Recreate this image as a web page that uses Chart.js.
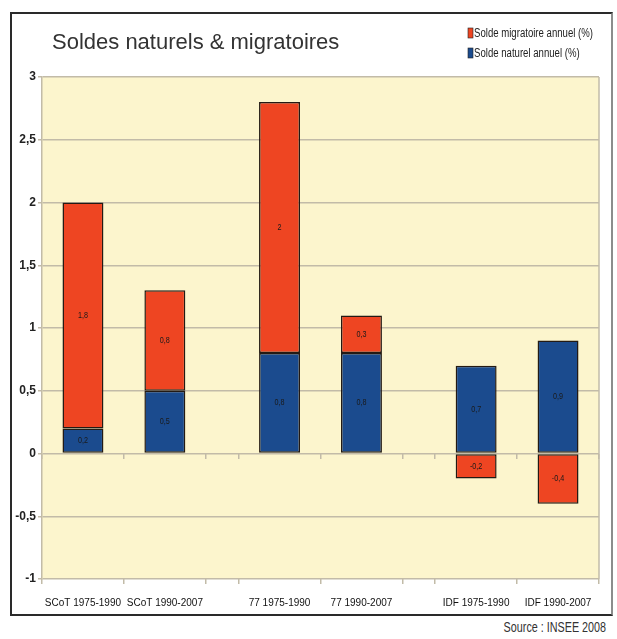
<!DOCTYPE html>
<html lang="fr">
<head>
<meta charset="UTF-8">
<title>Soldes naturels & migratoires</title>
<script src="https://cdn.jsdelivr.net/npm/chart.js"></script>
<style>
    body {
        margin: 0;
        background: #fff;
        font-family: 'Liberation Sans', Arial, sans-serif;
    }
    .frame {
        position: absolute;
        left: 10px;
        top: 12px;
        width: 599px;
        height: 600px;
        border: 2px solid #2a2a2a;
        border-right-color: #8c8c8c;
        background: #fff;
    }
    .source {
        position: absolute;
        right: 11px;
        top: 619px;
        font: 14px 'Liberation Sans', Arial, sans-serif;
        color: #333;
        transform: scaleX(0.77);
        transform-origin: right center;
        white-space: nowrap;
    }
</style>
</head>
<body>
<div class="frame"><canvas id="soldes"></canvas></div>
<div class="source">Source : INSEE 2008</div>

<script>
// data
const title = 'Soldes naturels & migratoires';
const categories = ['SCoT 1975-1990', 'SCoT 1990-2007', '77 1975-1990', '77 1990-2007', 'IDF 1975-1990', 'IDF 1990-2007'];
const soldeNaturel = [0.2, 0.5, 0.8, 0.8, 0.7, 0.9];
const soldeMigratoire = [1.8, 0.8, 2, 0.3, -0.2, -0.4];
const labelNaturel = 'Solde naturel annuel (%)';
const labelMigratoire = 'Solde migratoire annuel (%)';
const yMin = -1, yMax = 3, yStep = 0.5;

// bars come in pairs (one pair per territory), with a narrower gap between pairs
const perGroup = 2;
const groupGap = 0.4;
const nGroups = categories.length / perGroup;
const xMax = nGroups * perGroup + (nGroups - 1) * groupGap;
const centers = categories.map((c, i) => Math.floor(i / perGroup) * (perGroup + groupGap) + (i % perGroup) + 0.5);
const edges = [];
for (let g = 0; g < nGroups; g++) {
    for (let k = 0; k <= perGroup; k++) edges.push(g * (perGroup + groupGap) + k);
}

const RED = '#ee4522';
const BLUE = '#1b4b8e';
const GRID = '#c2bba8';
const SANS = "'Liberation Sans', Arial, sans-serif";
const fmt = v => String(v).replace('.', ',');

const plotBackground = {
    id: 'plotBackground',
    beforeDraw(chart) {
        const { ctx, chartArea: a } = chart;
        ctx.save();
        ctx.fillStyle = '#fcf5cd';
        ctx.fillRect(a.left, a.top, a.width, a.height);
        ctx.restore();
    },
    beforeDatasetsDraw(chart) {
        const { ctx, chartArea: a } = chart;
        ctx.save();
        ctx.strokeStyle = GRID;
        ctx.lineWidth = 1.5;
        ctx.beginPath();
        ctx.moveTo(a.right, a.top);
        ctx.lineTo(a.right, a.bottom);
        ctx.stroke();
        ctx.restore();
    }
};

// value written in the middle of every segment
const segmentLabels = {
    id: 'segmentLabels',
    afterDatasetsDraw(chart) {
        const ctx = chart.ctx;
        ctx.save();
        ctx.font = '9px ' + SANS;
        ctx.fillStyle = '#1a1a1a';
        ctx.textAlign = 'center';
        ctx.textBaseline = 'middle';
        chart.data.datasets.forEach((ds, di) => {
            chart.getDatasetMeta(di).data.forEach((bar, i) => {
                const txt = fmt(ds.data[i].y);
                ctx.fillText(txt, bar.x, (bar.y + bar.base) / 2, ctx.measureText(txt).width * 0.8);
            });
        });
        ctx.restore();
    }
};

// title on the left, legend stacked on the right
const header = {
    id: 'header',
    afterDraw(chart) {
        const ctx = chart.ctx;
        ctx.save();
        ctx.fillStyle = '#333';
        ctx.textBaseline = 'middle';
        ctx.font = '22px ' + SANS;
        ctx.fillText(title, 40, 29);

        const items = chart.data.datasets.slice().reverse();
        ctx.font = '12px ' + SANS;
        items.forEach((ds, i) => {
            const y = 19 + i * 20;
            ctx.fillStyle = ds.backgroundColor;
            ctx.fillRect(456, y - 5, 5, 10);
            ctx.strokeStyle = '#222';
            ctx.lineWidth = 0.6;
            ctx.strokeRect(456, y - 5, 5, 10);
            ctx.fillStyle = '#222';
            ctx.fillText(ds.label, 462, y + 1, ctx.measureText(ds.label).width * 0.8);
        });
        ctx.restore();
    }
};

const ctx = document.getElementById('soldes').getContext('2d');
new Chart(ctx, {
    type: 'bar',
    data: {
        datasets: [{
            label: labelNaturel,
            data: soldeNaturel.map((v, i) => ({ x: centers[i], y: v })),
            backgroundColor: BLUE,
            borderColor: '#231a14',
            borderWidth: 1.5,
            borderSkipped: false,
            xAxisID: 'x'
        }, {
            label: labelMigratoire,
            data: soldeMigratoire.map((v, i) => ({ x: centers[i], y: v })),
            backgroundColor: RED,
            borderColor: '#231a14',
            borderWidth: 1.5,
            borderSkipped: false,
            xAxisID: 'x'
        }]
    },
    options: {
        responsive: true,
        maintainAspectRatio: false,
        animation: false,
        layout: { padding: { top: 63, right: 12, left: 0, bottom: 0 } },
        datasets: { bar: { categoryPercentage: 1, barPercentage: 0.5 } },
        plugins: {
            legend: { display: false },
            tooltip: { enabled: false }
        },
        scales: {
            x: {
                type: 'linear',
                position: 'bottom',
                offset: false,
                stacked: true,
                min: 0,
                max: xMax,
                weight: 1,
                afterBuildTicks(s) { s.ticks = centers.map(v => ({ value: v })); },
                afterFit(s) { s.height = 30; },
                ticks: {
                    autoSkip: false,
                    maxRotation: 0,
                    padding: 13,
                    color: '#111',
                    font: { family: SANS, size: 10 },
                    callback: (v, i) => categories[i]
                },
                grid: { display: false, drawTicks: false, offset: false },
                border: { display: false }
            },
            xt: {
                type: 'linear',
                position: 'bottom',
                offset: false,
                min: 0,
                max: xMax,
                weight: 0,
                afterBuildTicks(s) { s.ticks = edges.map(v => ({ value: v })); },
                afterFit(s) { s.height = 5; },
                ticks: { display: false },
                grid: { drawOnChartArea: false, tickLength: 5, color: GRID, lineWidth: 1.5, offset: false },
                border: { display: false }
            },
            xz: {
                type: 'linear',
                position: { y: 0 },
                offset: false,
                min: 0,
                max: xMax,
                afterBuildTicks(s) { s.ticks = edges.map(v => ({ value: v })); },
                ticks: { display: false },
                grid: { drawOnChartArea: false, tickLength: 5, color: GRID, lineWidth: 1.5, offset: false },
                border: { display: false }
            },
            y: {
                stacked: true,
                min: yMin,
                max: yMax,
                afterFit(s) { s.width = 30; },
                ticks: {
                    stepSize: yStep,
                    padding: 2,
                    color: '#222',
                    font: { family: SANS, size: 12, weight: 'bold' },
                    callback: v => fmt(v)
                },
                grid: { color: GRID, lineWidth: 1.5, tickLength: 4 },
                border: { display: true, color: GRID, width: 1.5 }
            }
        }
    },
    plugins: [plotBackground, segmentLabels, header]
});
</script>
</body>
</html>
